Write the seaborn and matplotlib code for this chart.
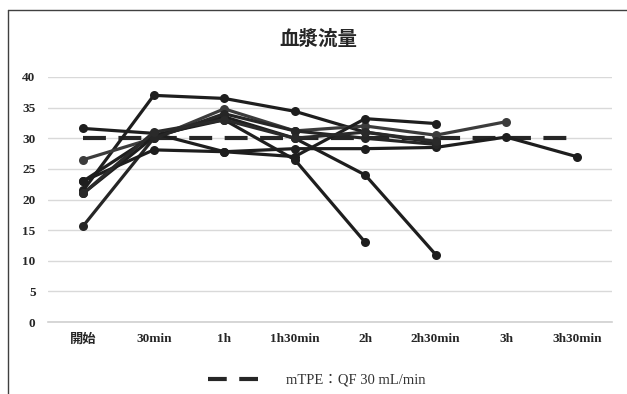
import numpy as np
import pandas as pd
import matplotlib.pyplot as plt
import seaborn as sns
from matplotlib.lines import Line2D

# categories on the x axis
times = ["開始", "30min", "1h", "1h30min", "2h", "2h30min", "3h", "3h30min"]
nan = np.nan

# plasma flow per patient
pt_a = [21.5, 37.0, 36.5, 34.4, 31.0, 29.3, nan, nan]
pt_b = [31.6, 30.8, 27.8, 28.3, 28.3, 28.5, 30.2, 27.0]
pt_c = [26.5, 30.0, 34.8, 31.2, 32.0, 30.5, 32.7, nan]
pt_d = [23.0, 30.5, 33.0, 26.5, 13.0, nan, nan, nan]
pt_e = [21.0, 30.2, 33.5, 30.0, 24.0, 11.0, nan, nan]
pt_f = [15.7, 30.0, 34.0, 31.2, 30.0, 29.0, nan, nan]
pt_g = [23.0, 28.1, 27.8, 27.0, 33.2, 32.4, nan, nan]
pt_h = [21.0, 31.0, 33.0, 30.0, 31.0, 29.5, nan, nan]
target = [30, 30, 30, 30, 30, 30, 30, 30]

patients = {"A": pt_a, "B": pt_b, "C": pt_c, "D": pt_d,
            "E": pt_e, "F": pt_f, "G": pt_g, "H": pt_h}
colors = {"A": "#1e1e1e", "B": "#1e1e1e", "C": "#3c3c3c", "D": "#1e1e1e",
          "E": "#1e1e1e", "F": "#262626", "G": "#1e1e1e", "H": "#2a2a2a"}

rows = []
for k, vals in patients.items():
    for i, v in enumerate(vals):
        if not np.isnan(v):
            rows.append({"patient": k, "x": i, "flow": v})
df = pd.DataFrame(rows)

sns.set_style("white")
plt.rcParams["font.family"] = ["Liberation Serif", "Noto Sans CJK JP"]

fig = plt.figure(figsize=(6.27, 3.94), dpi=100)
ax = fig.add_axes([0.0766, 0.1827, 0.8994, 0.6219])

ax.plot(range(len(times)), target, color="#262626", lw=3, dashes=(5.5, 3), zorder=2)

for k in patients:
    sub = df[df["patient"] == k]
    sns.lineplot(data=sub, x="x", y="flow", ax=ax, color=colors[k], lw=2.3,
                 marker="o", markersize=6.5, markeredgewidth=0, zorder=3,
                 clip_on=False)

ax.set_xlim(-0.5, len(times) - 0.5)
ax.set_ylim(0, 40)
ax.set_yticks(range(0, 41, 5))
ax.set_xticks(range(len(times)))
ax.set_xticklabels(times)
ax.set_xlabel("")
ax.set_ylabel("")
ax.grid(axis="y", color="#d9d9d9", lw=1)
ax.set_axisbelow(True)
for s in ["top", "right", "left"]:
    ax.spines[s].set_visible(False)
ax.spines["bottom"].set_color("#d0d0d0")
ax.spines["bottom"].set_linewidth(1.2)
ax.tick_params(length=0, labelsize=9.5)
ax.tick_params(axis="x", pad=8)
ax.tick_params(axis="y", pad=9)
for lab in ax.get_xticklabels() + ax.get_yticklabels():
    lab.set_fontweight("bold")

fig.text(0.507, 0.9, "血漿流量", ha="center", va="center", fontsize=14,
         fontweight="bold", family=["Noto Sans CJK JP"])

h = Line2D([], [], color="#262626", lw=3, dashes=(4.5, 3))
fig.legend([h], ["mTPE：QF 30 mL/min"], loc="center", bbox_to_anchor=(0.505, 0.035),
           frameon=False, fontsize=10.5, handlelength=4.0, handletextpad=1.4,
           labelcolor="#333333")

# outer chart frame
fig.add_artist(Line2D([0.013, 0.013], [0.0, 0.975], color="#404040", lw=1))
fig.add_artist(Line2D([0.013, 1.0], [0.975, 0.975], color="#404040", lw=1))

fig.savefig("out.png", dpi=100)
